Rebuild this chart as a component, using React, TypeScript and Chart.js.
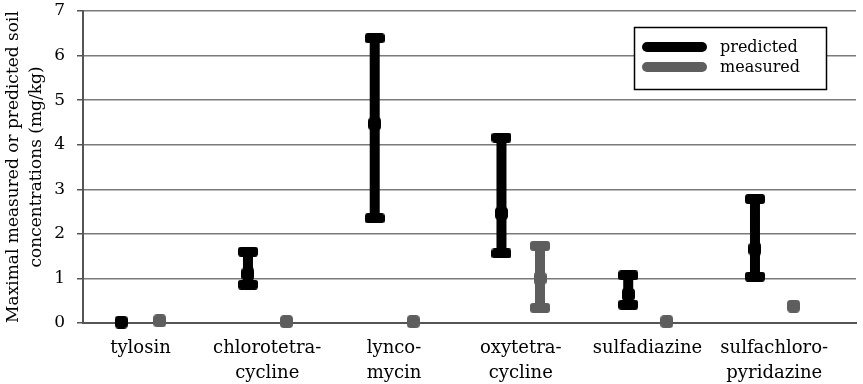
import React, { useEffect, useRef } from 'react';
import { Chart, registerables } from 'chart.js';

Chart.register(...registerables);

const CATEGORIES: string[][] = [
  ['tylosin'],
  ['chlorotetra-', 'cycline'],
  ['lynco-', 'mycin'],
  ['oxytetra-', 'cycline'],
  ['sulfadiazine'],
  ['sulfachloro-', 'pyridazine'],
];
const SERIES = ['predicted', 'measured'];

const PRED_MIN = [0.02, 0.86, 2.35, 1.56, 0.41, 1.04];
const PRED_MID = [0.02, 1.1, 4.47, 2.46, 0.64, 1.66];
const PRED_MAX = [0.02, 1.6, 6.39, 4.16, 1.07, 2.78];

const MEAS_MIN = [0.05, 0.03, 0.03, 0.34, 0.03, 0.38];
const MEAS_MID = [0.05, 0.03, 0.03, 1.0, 0.03, 0.38];
const MEAS_MAX = [0.05, 0.03, 0.03, 1.73, 0.03, 0.38];

const Y_MIN = 0;
const Y_MAX = 7;

const FONT = "'DejaVu Serif', serif";
const COLORS = ['#000000', '#5e5e5e'];

function makeMarker(w: number, h: number, r: number, color: string) {
  const c = document.createElement('canvas');
  c.width = w;
  c.height = h;
  const g = c.getContext('2d')!;
  g.fillStyle = color;
  g.beginPath();
  (g as any).roundRect(0, 0, w, h, r);
  g.fill();
  return c;
}

function rangeData(mins: number[], maxs: number[], off: number) {
  const out: any[] = [];
  mins.forEach((mn, i) => {
    out.push({ x: i + off, y: mn });
    out.push({ x: i + off, y: maxs[i] });
    out.push({ x: i + off, y: null });
  });
  return out;
}

function capData(mins: number[], maxs: number[], off: number) {
  const out: any[] = [];
  mins.forEach((mn, i) => {
    if (maxs[i] > mn) {
      out.push({ x: i + off, y: mn });
      out.push({ x: i + off, y: maxs[i] });
    }
  });
  return out;
}

function midData(mids: number[], off: number) {
  return mids.map((v, i) => ({ x: i + off, y: v }));
}

const legendPlugin = {
  id: 'boxLegend',
  afterDraw(chart: any) {
    const ctx = chart.ctx as CanvasRenderingContext2D;
    ctx.save();
    const bx = 634, by = 27, bw = 192, bh = 62;
    ctx.fillStyle = '#ffffff';
    ctx.fillRect(bx, by, bw, bh);
    ctx.strokeStyle = '#000000';
    ctx.lineWidth = 1.5;
    ctx.strokeRect(bx + 0.5, by + 0.5, bw, bh);
    SERIES.forEach((name, i) => {
      const y = 47 + i * 20;
      ctx.strokeStyle = COLORS[i];
      ctx.lineWidth = 10;
      ctx.lineCap = 'round';
      ctx.beginPath();
      ctx.moveTo(647, y);
      ctx.lineTo(702, y);
      ctx.stroke();
      ctx.fillStyle = '#000000';
      ctx.font = `16px ${FONT}`;
      ctx.textBaseline = 'middle';
      ctx.textAlign = 'left';
      ctx.fillText(name, 720, y + 1);
    });
    ctx.restore();
  },
};

export default function App() {
  const ref = useRef<HTMLCanvasElement | null>(null);

  useEffect(() => {
    if (!ref.current) return;
    const OFF = 0.152;
    const capP = makeMarker(20, 10, 3, COLORS[0]);
    const capM = makeMarker(20, 10, 3, COLORS[1]);
    const midP = makeMarker(13, 13, 4, COLORS[0]);
    const midM = makeMarker(13, 13, 4, COLORS[1]);

    const lineDs = (data: any[], color: string) => ({
      type: 'scatter',
      data,
      showLine: true,
      spanGaps: false,
      borderColor: color,
      borderWidth: 10,
      borderCapStyle: 'butt',
      pointRadius: 0,
      clip: false,
    });
    const ptDs = (data: any[], style: any) => ({
      type: 'scatter',
      data,
      showLine: false,
      pointStyle: style,
      pointRadius: 6,
      clip: false,
    });

    const chart = new Chart(ref.current, {
      type: 'scatter',
      data: {
        datasets: [
          { label: SERIES[0], ...lineDs(rangeData(PRED_MIN, PRED_MAX, -OFF), COLORS[0]) },
          { label: SERIES[0] + ' caps', ...ptDs(capData(PRED_MIN, PRED_MAX, -OFF), capP) },
          { label: SERIES[0] + ' mid', ...ptDs(midData(PRED_MID, -OFF), midP) },
          { label: SERIES[1], ...lineDs(rangeData(MEAS_MIN, MEAS_MAX, OFF), COLORS[1]) },
          { label: SERIES[1] + ' caps', ...ptDs(capData(MEAS_MIN, MEAS_MAX, OFF), capM) },
          { label: SERIES[1] + ' mid', ...ptDs(midData(MEAS_MID, OFF), midM) },
        ] as any,
      },
      options: {
        animation: false,
        responsive: true,
        maintainAspectRatio: false,
        layout: { padding: { top: 11, right: 0, bottom: 0, left: 0 } },
        plugins: {
          legend: { display: false },
          tooltip: { enabled: false },
        },
        scales: {
          x: {
            type: 'linear',
            min: -0.4535,
            max: 5.645,
            offset: false,
            afterBuildTicks: (s: any) => {
              s.ticks = CATEGORIES.map((_, i) => ({ value: i }));
            },
            afterFit: (s: any) => {
              s.height = 61;
              s.paddingLeft = 0;
              s.paddingRight = 0;
            },
            ticks: {
              autoSkip: false,
              maxRotation: 0,
              minRotation: 0,
              padding: 13,
              color: '#000000',
              font: { family: FONT, size: 18, lineHeight: 1.39 },
              callback: (v: any) => CATEGORIES[Math.round(Number(v))] ?? '',
            },
            grid: { drawOnChartArea: false, drawTicks: false },
            border: { display: true, color: '#555555', width: 2 },
          },
          y: {
            type: 'linear',
            min: Y_MIN,
            max: Y_MAX,
            afterFit: (s: any) => {
              s.width = 83;
              s.paddingTop = 0;
              s.paddingBottom = 0;
            },
            ticks: {
              stepSize: 1,
              padding: 12,
              color: '#000000',
              font: { family: FONT, size: 17 },
            },
            grid: {
              color: '#7a7a7a',
              lineWidth: 1.5,
              tickLength: 6,
              tickColor: '#555555',
            },
            border: { display: true, color: '#555555', width: 2 },
            title: {
              display: true,
              text: ['Maximal measured or predicted soil', 'concentrations (mg/kg)'],
              color: '#000000',
              font: { family: FONT, size: 17, lineHeight: 1.3 },
              padding: { top: 3, bottom: 0 },
            },
          },
        },
      },
      plugins: [legendPlugin],
    } as any);

    return () => chart.destroy();
  }, []);

  return (
    <div style={{ position: 'fixed', left: 0, top: 0, width: 863, height: 384, background: '#ffffff' }}>
      <canvas ref={ref} />
    </div>
  );
}
